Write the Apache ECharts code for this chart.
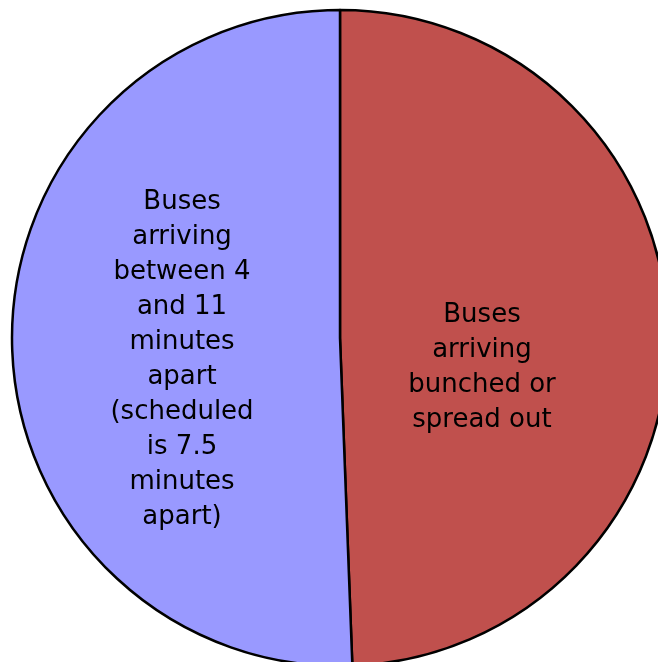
<!DOCTYPE html>
<html>
<head>
<meta charset="utf-8">
<style>html,body{margin:0;padding:0;background:#fff;}#c{width:658px;height:662px;}</style>
<script src="https://cdn.jsdelivr.net/npm/echarts@6/dist/echarts.min.js"></script>
</head>
<body>
<div id="c"></div>
<script>
const categories = [
  'Buses\narriving\nbunched or\nspread out',
  'Buses\narriving\nbetween 4\nand 11\nminutes\napart\n(scheduled\nis 7.5\nminutes\napart)'
];
const values = [49.4, 50.6];
const colors = ['#C0504D', '#9999FF'];
const labelOffsets = [[-25, 33], [9, 19]];

const chart = echarts.init(document.getElementById('c'), null, {renderer: 'canvas'});
chart.setOption({
  animation: false,
  series: [{
    type: 'pie',
    center: [340, 338],
    radius: 328,
    startAngle: 90,
    clockwise: true,
    label: {
      show: true,
      position: 'inside',
      formatter: '{b}',
      color: '#000',
      fontFamily: 'DejaVu Sans, Liberation Sans, sans-serif',
      fontSize: 26,
      lineHeight: 35,
      align: 'center'
    },
    labelLine: {show: false},
    emphasis: {disabled: true},
    itemStyle: {borderColor: '#000', borderWidth: 2.5},
    data: categories.map((name, i) => ({
      name: name,
      value: values[i],
      itemStyle: {color: colors[i]},
      label: {offset: labelOffsets[i]}
    }))
  }]
});
</script>
</body>
</html>
